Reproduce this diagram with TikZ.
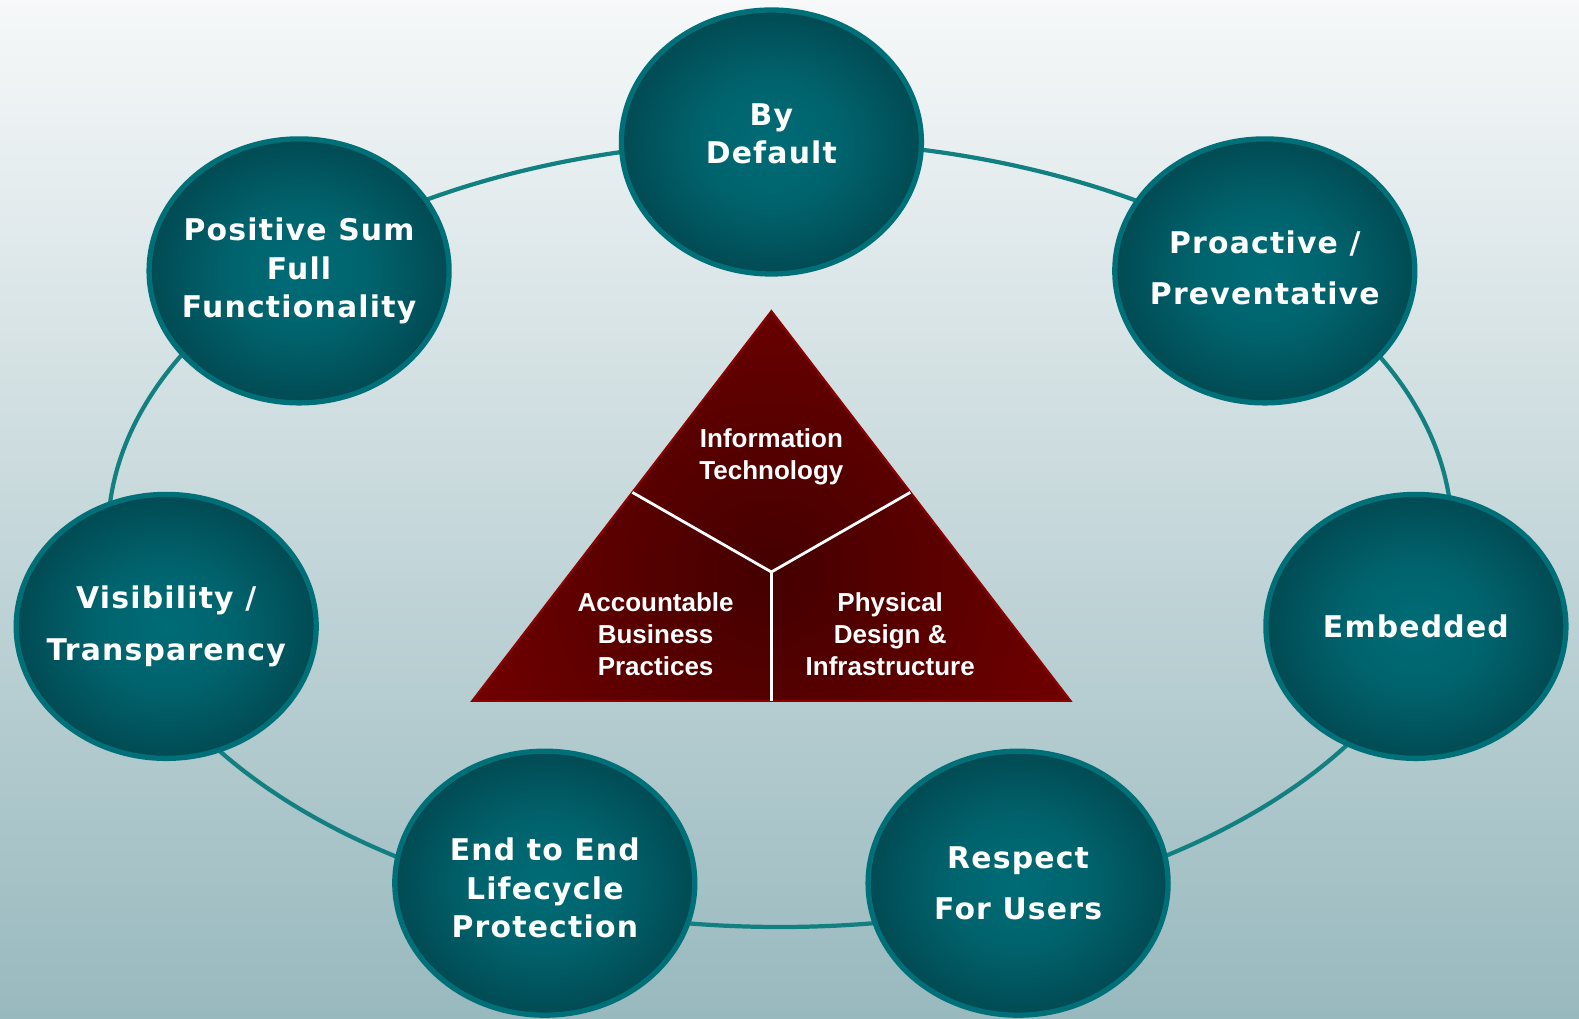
\documentclass[tikz,border=0pt]{standalone}
\usepackage{fontspec}
\usepackage{tikz}
\usetikzlibrary{shapes.geometric}

\newfontfamily\circfont[LetterSpace=4]{DejaVu Sans}
\newfontfamily\trifont{Liberation Sans}

\definecolor{bgtop}{RGB}{246,248,249}
\definecolor{bgbottom}{RGB}{152,185,190}
\definecolor{ringteal}{RGB}{18,128,128}
\definecolor{circleedge}{RGB}{0,112,120}
\definecolor{tealmid}{RGB}{0,108,118}
\definecolor{tealdark}{RGB}{3,46,54}
\definecolor{reddeep}{RGB}{68,0,0}
\definecolor{redbright}{RGB}{128,0,0}
\definecolor{rededge}{RGB}{140,0,0}

% glow inside the principle circles
\pgfdeclareradialshading{tealglow}{\pgfpoint{0bp}{0bp}}{color(0bp)=(tealmid); color(12bp)=(tealmid!85!tealdark); color(40bp)=(tealdark); color(50bp)=(tealdark)}
% darker red towards the middle of the triangle
\pgfdeclareradialshading{redglow}{\pgfpoint{0bp}{0bp}}{color(0bp)=(reddeep); color(32bp)=(redbright); color(50bp)=(redbright)}

\tikzset{
  principle/.style={ellipse, minimum width=3.0cm, minimum height=2.64cm, inner sep=0pt,
    draw=circleedge, line width=1.5pt, shading=tealglow},
  plabel/.style={text=white, align=center, inner sep=0pt,
    font=\circfont\bfseries\fontsize{8.5}{11}\selectfont},
  ring/.style={draw=ringteal, line width=1.2pt},
  pillar/.style={text=white, align=center, inner sep=0pt,
    font=\trifont\bfseries\fontsize{7.4}{9.1}\selectfont},
  divider/.style={draw=white, line width=0.8pt}
}

\begin{document}
\begin{tikzpicture}
    \useasboundingbox (0,0) rectangle (15.79,10.19);

    % Background gradient
    \shade[top color=bgtop, bottom color=bgbottom] (0,0) rectangle (15.79,10.19);

    % Ring that links the seven principles
    \coordinate (ringc) at (7.80,4.85);
    \draw[ring] (ringc) ellipse [x radius=6.72cm, y radius=3.93cm];

    % Seven principles
    \node[principle, label={[plabel, yshift=0.08cm]center:{By\\Default}}] (default) at (7.714,8.770) {};
    \node[principle, label={[plabel]center:{Positive Sum\\Full\\Functionality}}] (positivesum) at (2.991,7.481) {};
    \node[principle, label={[plabel, yshift=0.03cm]center:{Proactive /\\[3.6pt]Preventative}}] (proactive) at (12.648,7.481) {};
    \node[principle, label={[plabel]center:{Visibility /\\[3.6pt]Transparency}}] (visibility) at (1.662,3.926) {};
    \node[principle, label={[plabel]center:{Embedded}}] (embedded) at (14.159,3.926) {};
    \node[principle, label={[plabel, yshift=-0.05cm]center:{End to End\\Lifecycle\\Protection}}] (endtoend) at (5.448,1.358) {};
    \node[principle, label={[plabel]center:{Respect\\[3.6pt]For Users}}] (respect) at (10.181,1.358) {};

    % Triangle in the middle
    \coordinate (apex)  at (7.714,7.078);
    \coordinate (baseL) at (4.723,3.181);
    \coordinate (baseR) at (10.705,3.181);
    \coordinate (midL)  at (6.324,5.266);
    \coordinate (midR)  at (9.103,5.266);
    \coordinate (hub)   at (7.714,4.470);
    \coordinate (foot)  at (7.714,3.181);

    \begin{scope}
        \clip (apex) -- (baseR) -- (baseL) -- cycle;
        \shade[shading=redglow] (hub) circle (3.4cm);
    \end{scope}
    \draw[rededge, line width=0.6pt] (apex) -- (baseR) -- (baseL) -- cycle;

    % Split into three parts
    \draw[divider] (midL) -- (hub) -- (midR);
    \draw[divider] (hub) -- (foot);

    \node[pillar] (tech)     at (7.714,5.618) {Information\\Technology};
    \node[pillar] (business) at (6.556,3.846) {Accountable\\Business\\Practices};
    \node[pillar] (physical) at (8.902,3.846) {Physical\\Design \&\\Infrastructure};

\end{tikzpicture}
\end{document}
